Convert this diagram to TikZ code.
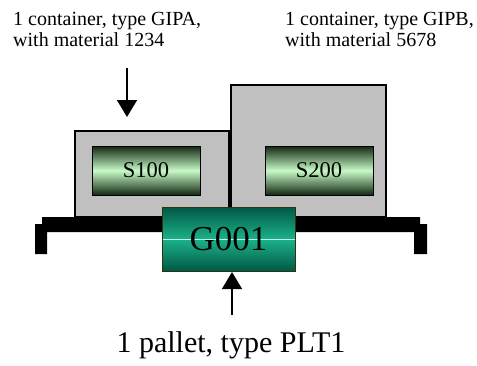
\documentclass[tikz,border=0pt]{standalone}
\usepackage{fontspec}
\setmainfont{Liberation Serif}
\usetikzlibrary{arrows.meta}
\definecolor{boxgray}{RGB}{192,192,192}
\definecolor{sdark}{RGB}{18,40,18}
\definecolor{slight}{RGB}{200,250,200}
\definecolor{gdark}{RGB}{0,88,68}
\definecolor{gmid}{RGB}{28,178,138}
\definecolor{gline}{RGB}{190,255,235}
\definecolor{gborder}{RGB}{50,50,10}
\tikzset{
  container/.style={draw=black, line width=1.2pt, fill=boxgray, inner sep=0pt, outer sep=0pt},
  slabel/.style={draw=black, line width=0.9pt, inner sep=0pt, outer sep=0pt,
    minimum width=108pt, minimum height=49pt,
    top color=sdark, bottom color=sdark, middle color=slight,
    font=\fontsize{22.5}{24}\selectfont},
  glabel/.style={draw=gborder, line width=0.9pt, inner sep=0pt, outer sep=0pt,
    minimum width=133pt, minimum height=64pt,
    top color=gdark, bottom color=gdark, middle color=gmid,
    font=\fontsize{35}{38}\selectfont,
    path picture={\draw[gline, line width=0.8pt] (path picture bounding box.west) -- (path picture bounding box.east);}},
  toplabel/.style={anchor=north west, align=left, inner sep=0pt, font=\fontsize{20}{21}\selectfont},
  arr/.style={line width=1.6pt, -{Triangle[length=17pt,width=20pt]}},
}
\begin{document}
\begin{tikzpicture}[x=1pt,y=-1pt]
\useasboundingbox (0,0) rectangle (477,365);
% labels
\node[toplabel] (lblA) at (13,12.5) {1 container, type GIPA,\\with material 1234};
\node[toplabel] (lblB) at (285,12.5) {1 container, type GIPB,\\with material 5678};
\node[anchor=base, inner sep=0pt, font=\fontsize{30}{32}\selectfont] (lblP) at (231,352) {1 pallet, type PLT1};
% containers
\node[container, minimum width=154pt, minimum height=86pt] (c1) at (152,174) {};
\node[container, minimum width=155pt, minimum height=132pt] (c2) at (308.5,151) {};
\node[slabel] (s100) at (146,170.5) {S100};
\node[slabel] (s200) at (319,170.5) {S200};
% pallet
\fill[black] (42,217) -- (420,217) -- (420,224) -- (427,224) -- (427,254) -- (414,254)
  -- (414,232) -- (47,232) -- (47,254) -- (35,254) -- (35,224) -- (42,224) -- cycle;
\node[glabel] (g001) at (228.5,239) {G001};
% arrows
\coordinate (a1s) at (127,68);
\coordinate (a1e) at (127,117);
\draw[arr] (a1s) -- (a1e);
\coordinate (a2s) at (232,315);
\coordinate (a2e) at (232,272);
\draw[arr] (a2s) -- (a2e);
\end{tikzpicture}
\end{document}
